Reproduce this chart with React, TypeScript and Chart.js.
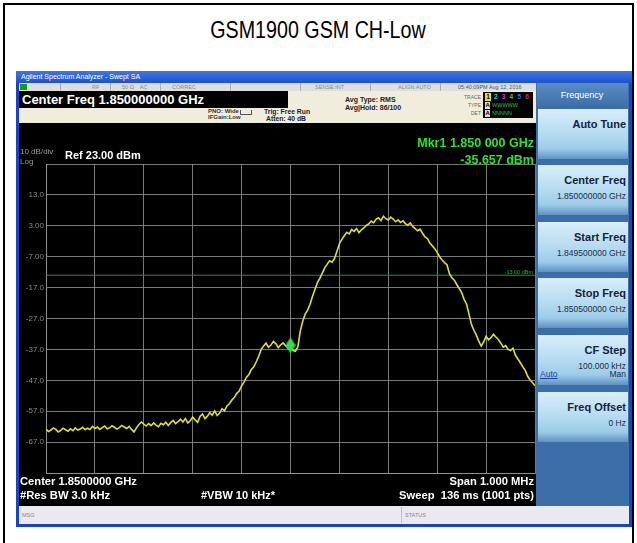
import React, { useEffect, useRef } from 'react';
import { Chart, registerables } from 'chart.js';

Chart.register(...registerables);

// ---- chart data (frequency offset from 1.850 GHz in kHz, level in dBm) ----
const freqOffsetsKHz = [
  -500, -495, -490, -485, -480, -475, -470, -465, -460, -455,
  -450, -445, -440, -435, -430, -425, -420, -415, -410, -405,
  -400, -395, -390, -385, -380, -375, -370, -365, -360, -355,
  -350, -345, -340, -335, -330, -325, -320, -315, -310, -305,
  -300, -295, -290, -285, -280, -275, -270, -265, -260, -255,
  -250, -245, -240, -235, -230, -225, -220, -215, -210, -205,
  -200, -195, -190, -185, -180, -175, -170, -165, -160, -155,
  -150, -145, -140, -135, -130, -125, -120, -115, -110, -105,
  -100, -95, -90, -85, -80, -75, -70, -65, -60, -55,
  -50, -45, -40, -35, -30, -25, -20, -15, -10, -5,
  0, 5, 10, 15, 20, 25, 30, 35, 40, 45,
  50, 55, 60, 65, 70, 75, 80, 85, 90, 95,
  100, 105, 110, 115, 120, 125, 130, 135, 140, 145,
  150, 155, 160, 165, 170, 175, 180, 185, 190, 195,
  200, 205, 210, 215, 220, 225, 230, 235, 240, 245,
  250, 255, 260, 265, 270, 275, 280, 285, 290, 295,
  300, 305, 310, 315, 320, 325, 330, 335, 340, 345,
  350, 355, 360, 365, 370, 375, 380, 385, 390, 395,
  400, 405, 410, 415, 420, 425, 430, 435, 440, 445,
  450, 455, 460, 465, 470, 475, 480, 485, 490, 495,
  500,
];
const traceDbm = [
  -62.8, -63.6, -63.1, -62.4, -62.9, -63.7, -63.2, -62.5, -63.0, -63.5,
  -62.7, -63.3, -62.4, -63.1, -62.8, -62.2, -63.0, -62.5, -62.9, -61.9,
  -62.6, -62.1, -62.9, -62.3, -61.8, -62.7, -62.4, -61.7, -62.2, -62.8,
  -62.3, -61.6, -62.1, -62.6, -61.9, -62.9, -63.7, -62.4, -61.3, -60.5,
  -61.2, -61.8, -61.0, -61.7, -60.8, -61.5, -62.0, -60.9, -61.4, -60.6,
  -61.6, -60.7, -60.0, -61.0, -60.4, -59.6, -60.5, -59.4, -60.8, -60.1,
  -58.9, -59.8, -60.6, -58.7, -57.9, -59.4, -58.6, -57.5, -58.3, -56.9,
  -58.4, -57.6, -56.2, -56.9, -55.3, -54.6, -53.4, -52.6, -51.2, -50.5,
  -48.8, -47.6, -46.0, -45.1, -43.5, -42.6, -41.0, -39.2, -37.0, -35.9,
  -35.0, -36.3, -35.6, -34.4, -35.1, -36.4, -35.5, -34.9, -35.8, -36.6,
  -35.7, -37.3, -37.6, -36.2, -31.0, -27.9, -25.6, -24.3, -22.4, -19.8,
  -17.6, -15.4, -14.0, -12.3, -10.6, -9.4, -8.3, -8.8, -7.6, -5.2,
  -2.8, -1.4, -0.2, 0.9, 0.4, 1.8, 1.2, 2.1, 0.8, 1.7,
  2.3, 3.1, 3.6, 4.5, 4.0, 5.1, 5.6, 4.7, 6.1, 5.3,
  4.9, 5.8, 5.2, 4.3, 4.9, 4.1, 4.6, 3.7, 3.2, 3.9,
  2.8, 2.1, 1.4, 1.9, 0.6, -0.6, -1.1, -2.6, -3.5, -4.4,
  -5.6, -7.0, -8.1, -8.9, -9.6, -12.5, -13.8, -14.6, -16.0, -17.3,
  -18.6, -20.8, -22.3, -25.6, -28.9, -30.8, -32.4, -34.3, -35.9, -34.6,
  -32.8, -33.9, -33.2, -32.1, -33.0, -33.8, -34.9, -36.3, -35.8, -37.0,
  -37.4, -36.6, -38.9, -40.1, -41.3, -42.6, -43.8, -45.7, -46.9, -47.8,
  -48.8,
];
const markerFreqKHz = [0];
const markerDbm = [-35.657];
const limitFreqKHz = [-500, 500];
const limitDbm = [-13, -13];
const yTickValues = [23, 13, 3, -7, -17, -27, -37, -47, -57, -67, -77];
const yTickLabels = ['', '13.0', '3.00', '-7.00', '-17.0', '-27.0', '-37.0', '-47.0', '-57.0', '-67.0', ''];

const softKeys = [
  { title: 'Auto Tune', lines: [] as string[] },
  { title: 'Center Freq', lines: ['1.850000000 GHz'] },
  { title: 'Start Freq', lines: ['1.849500000 GHz'] },
  { title: 'Stop Freq', lines: ['1.850500000 GHz'] },
  { title: 'CF Step', lines: ['100.000 kHz'] },
  { title: 'Freq Offset', lines: ['0 Hz'] },
];

const FF = '"Liberation Sans", Arial, Helvetica, sans-serif';

type TP = {
  x: number; y: number; s: number; text: string; color?: string; bold?: boolean;
  right?: boolean; center?: boolean; extra?: React.CSSProperties;
};
const Txt = ({ x, y, s, text, color = '#fff', bold = true, right, center, extra }: TP) => {
  const st: React.CSSProperties = {
    position: 'absolute', top: y - 0.6 * s, fontSize: s, lineHeight: `${1.2 * s}px`,
    fontFamily: FF, fontWeight: bold ? 700 : 400, color, whiteSpace: 'pre', ...extra,
  };
  if (right) st.right = 637 - x;
  else if (center) { st.left = x - 200; st.width = 400; st.textAlign = 'center'; }
  else st.left = x;
  return <div style={st}>{text}</div>;
};

const Box = ({ x, y, w, h, bg, extra }: { x: number; y: number; w: number; h: number; bg: string; extra?: React.CSSProperties }) => (
  <div style={{ position: 'absolute', left: x, top: y, width: w, height: h, background: bg, ...extra }} />
);

function makeDiamond(): HTMLCanvasElement {
  const c = document.createElement('canvas');
  c.width = 10; c.height = 16;
  const g = c.getContext('2d')!;
  g.fillStyle = '#2be04a';
  g.beginPath(); g.moveTo(5, 0); g.lineTo(10, 8); g.lineTo(5, 16); g.lineTo(0, 8); g.closePath(); g.fill();
  return c;
}

export default function App() {
  const ref = useRef<HTMLCanvasElement>(null);
  useEffect(() => {
    const cv = ref.current!;
    const grid = 'rgba(150,150,150,0.8)';
    const chart = new Chart(cv, {
      type: 'line',
      data: {
        datasets: [
          {
            data: markerFreqKHz.map((f, i) => ({ x: f, y: markerDbm[i] })),
            showLine: false, pointStyle: makeDiamond() as any, pointRadius: 5, order: 0,
          },
          {
            data: freqOffsetsKHz.map((f, i) => ({ x: f, y: traceDbm[i] })),
            borderColor: '#dede38', borderWidth: 1.6, pointRadius: 0, tension: 0, order: 1,
          },
          {
            data: limitFreqKHz.map((f, i) => ({ x: f, y: limitDbm[i] })),
            borderColor: '#1f9a2a', borderWidth: 1, pointRadius: 0, order: 2,
          },
        ],
      },
      options: {
        animation: false, responsive: false, events: [],
        layout: { padding: { left: 19, top: 164, right: 102, bottom: 70 } },
        plugins: { legend: { display: false }, tooltip: { enabled: false }, title: { display: false } },
        scales: {
          x: {
            type: 'linear', min: -500, max: 500,
            ticks: { display: false, stepSize: 100 },
            grid: { color: grid, drawTicks: false, lineWidth: 1 },
            border: { display: true, color: grid },
            afterFit: (s: any) => { s.height = 0; },
          },
          y: {
            type: 'linear', min: -77, max: 23,
            afterBuildTicks: (s: any) => { s.ticks = yTickValues.map((v) => ({ value: v })); },
            ticks: {
              autoSkip: false, padding: 2, color: '#8a8a8a',
              font: { family: FF, size: 8 },
              callback: (v: any) => { const i = yTickValues.indexOf(Number(v)); return i >= 0 ? yTickLabels[i] : ''; },
            },
            grid: { color: grid, drawTicks: false, lineWidth: 1 },
            border: { display: true, color: grid },
            afterFit: (s: any) => { s.width = 27; },
          },
        },
      },
    });
    return () => chart.destroy();
  }, []);

  const keyTops = [109, 165, 222, 278, 335, 392];
  const traceNums = [
    { t: '1', c: '#000', bg: '#e0e040' }, { t: '2', c: '#22d0e0' }, { t: '3', c: '#c040e0' },
    { t: '4', c: '#30d040' }, { t: '5', c: '#4060ff' }, { t: '6', c: '#c03070' },
  ];

  return (
    <div style={{ position: 'absolute', left: 0, top: 0, width: 637, height: 543, overflow: 'hidden', background: '#fff', fontFamily: FF }}>
      {/* outer frame */}
      <div style={{ position: 'absolute', left: 3, top: 3, width: 631, height: 560, border: '2px solid #000', boxSizing: 'border-box' }} />
      <Txt x={318} y={30} s={24} text="GSM1900 GSM CH-Low" color="#000" bold={false} center extra={{ transform: 'scaleX(0.82)' }} />

      {/* window frame */}
      <Box x={16} y={71} w={616} h={456} bg="#1b45c0" />
      <Box x={16} y={71} w={616} h={12} bg="linear-gradient(#3a78e8, #1f52c8)" />
      <Txt x={21} y={77} s={7} text="Agilent Spectrum Analyzer - Swept SA" color="#fff" bold={false} />

      {/* status row */}
      <Box x={19} y={83} w={517} h={8} bg="#dedede" />
      <Box x={20} y={84} w={7} h={6} bg="#1a9a1a" />
      {[60, 110, 160, 230, 300, 370, 440].map((sx) => (
        <Box key={sx} x={sx} y={83} w={1} h={8} bg="#b0b0b0" />
      ))}
      <Txt x={92} y={87} s={5.5} text="RF" color="#888" bold={false} />
      <Txt x={122} y={87} s={5.5} text="50 Ω    AC" color="#888" bold={false} />
      <Txt x={172} y={87} s={5.5} text="CORREC" color="#888" bold={false} />
      <Txt x={315} y={87} s={5.5} text="SENSE:INT" color="#888" bold={false} />
      <Txt x={398} y={87} s={5.5} text="ALIGN AUTO" color="#888" bold={false} />
      <Txt x={458} y={87} s={5.5} text="05:40:09PM Aug 12, 2016" color="#555" bold={false} />

      {/* settings band */}
      <Box x={19} y={91} w={517} h={32} bg="#f1eddd" />
      <Box x={19} y={91} w={269} h={17} bg="#000" />
      <Txt x={22} y={99.5} s={13} text="Center Freq 1.850000000 GHz" />
      <Txt x={208} y={111.5} s={6} text="PNO: Wide" color="#333" />
      <Box x={240} y={110} w={10} h={4} bg="transparent" extra={{ border: '1px solid #555', borderTop: 'none' }} />
      <Txt x={208} y={117.5} s={6} text="IFGain:Low" color="#333" />
      <Txt x={264} y={112.5} s={6.8} text="Trig: Free Run" color="#222" />
      <Txt x={266} y={119} s={6.8} text="Atten: 40 dB" color="#222" />
      <Txt x={345} y={100} s={7} text="Avg Type: RMS" color="#222" />
      <Txt x={345} y={108} s={7} text="Avg|Hold: 86/100" color="#222" />
      <Txt x={481} y={97} s={5} text="TRACE" color="#666" bold={false} right />
      <Txt x={481} y={105} s={5} text="TYPE" color="#666" bold={false} right />
      <Txt x={481} y={113} s={5} text="DET" color="#666" bold={false} right />
      <Box x={483} y={92} w={50} h={26} bg="#000" />
      {traceNums.map((n, i) => (
        <div key={i} style={{ position: 'absolute', left: 485 + i * 7.8, top: 93, width: 6, height: 8, background: n.bg || 'transparent', color: n.c, fontSize: 6.5, lineHeight: '8px', fontFamily: FF, fontWeight: 700, textAlign: 'center' }}>{n.t}</div>
      ))}
      <Box x={485} y={102} w={5} h={7} bg="#ddd" />
      <Txt x={485.5} y={105.5} s={6} text="A" color="#000" />
      <Txt x={492} y={105.5} s={5.5} text="WWWWW" color="#30c030" bold={false} />
      <Box x={485} y={110} w={5} h={7} bg="#ddd" />
      <Txt x={485.5} y={113.5} s={6} text="A" color="#000" />
      <Txt x={492} y={113.5} s={5.5} text="NNNNN" color="#30c030" bold={false} />

      {/* black display */}
      <Box x={19} y={123} w={517} h={383} bg="#000" />

      {/* right soft-key panel */}
      <Box x={536} y={83} w={93} h={423} bg="#3d6ea8" />
      <Box x={537} y={83} w={91} h={24} bg="linear-gradient(#5a8cc4, #3e6ea6)" />
      <Txt x={582} y={95} s={9} text="Frequency" color="#fff" bold={false} center />
      {softKeys.map((k, i) => {
        const t = keyTops[i];
        return (
          <React.Fragment key={k.title}>
            <Box x={538} y={t} w={90} h={50} bg="linear-gradient(#d9eef9 0%, #b1d9f0 55%, #9ccbe8 80%, #5e91c4 100%)" />
            <Txt x={626} y={t + 16} s={11} text={k.title} color="#14233a" right />
            {k.lines.map((ln, j) => (
              <Txt key={j} x={626} y={t + 31 + j * 13} s={8.5} text={ln} color="#1c2c44" bold={false} right />
            ))}
          </React.Fragment>
        );
      })}
      <Txt x={540} y={keyTops[4] + 39} s={8.5} text="Auto" color="#1c3ca0" bold={false} extra={{ textDecoration: 'underline' }} />
      <Txt x={626} y={keyTops[4] + 39} s={8.5} text="Man" color="#1c2c44" bold={false} right />

      {/* status bar */}
      <Box x={19} y={506} w={610} h={18} bg="#e9e9ef" />
      <Box x={401} y={507} w={1} h={16} bg="#c0c0c8" />
      <Txt x={22} y={515} s={5.5} text="MSG" color="#888" bold={false} />
      <Txt x={405} y={515} s={5.5} text="STATUS" color="#888" bold={false} />

      <canvas ref={ref} width={637} height={543} style={{ position: 'absolute', left: 0, top: 0 }} />

      {/* display annotations */}
      <Txt x={20} y={152} s={8} text="10 dB/div" color="#999" bold={false} />
      <Txt x={20} y={162} s={8} text="Log" color="#999" bold={false} />
      <Txt x={65} y={156} s={11} text="Ref 23.00 dBm" color="#fff" />
      <Txt x={534} y={143} s={12.5} text="Mkr1 1.850 000 GHz" color="#30e030" right />
      <Txt x={534} y={160} s={12.5} text="-35.657 dBm" color="#30e030" right />
      <Txt x={533} y={272} s={5.5} text="-13.00 dBm" color="#2ab02a" bold={false} right />
      <Txt x={20} y={482} s={11.2} text="Center 1.8500000 GHz" color="#fff" />
      <Txt x={20} y={496} s={11.2} text="#Res BW 3.0 kHz" color="#fff" />
      <Txt x={201} y={496} s={11} text="#VBW 10 kHz*" color="#fff" />
      <Txt x={534} y={482} s={11.2} text="Span 1.000 MHz" color="#fff" right />
      <Txt x={534} y={496} s={11.2} text="Sweep  136 ms (1001 pts)" color="#fff" right />
    </div>
  );
}
